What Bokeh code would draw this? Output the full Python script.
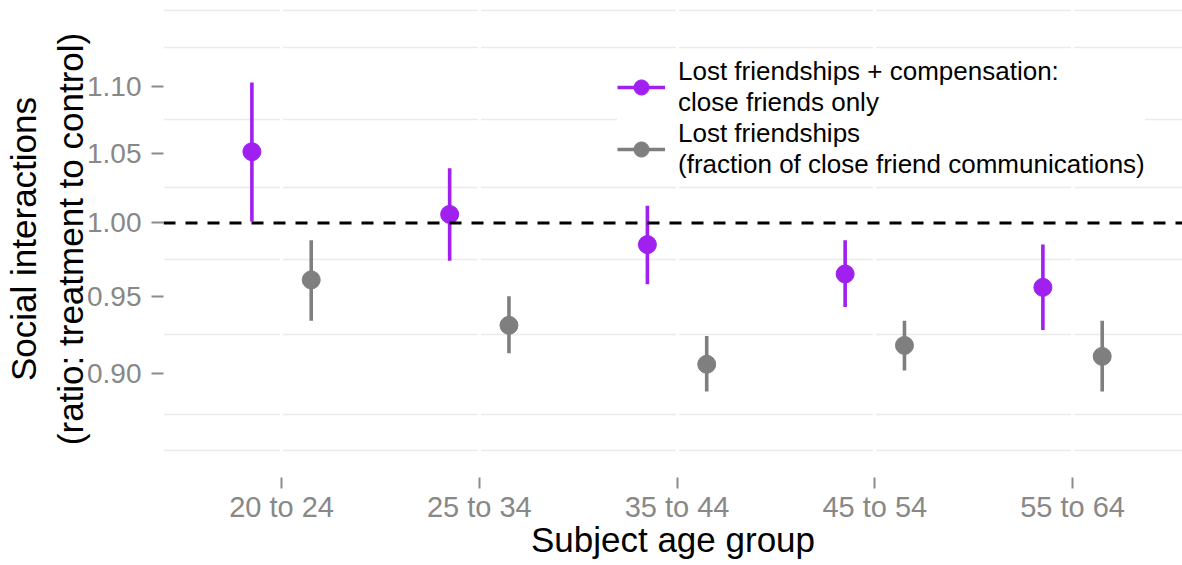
from bokeh.plotting import figure
from bokeh.models import (ColumnDataSource, Range1d, FixedTicker, PrintfTickFormatter,
                          Span, Legend, LegendItem)
from bokeh.transform import dodge
from bokeh.embed import file_html
from bokeh.resources import INLINE

# ---- data ----
ages = ["20 to 24", "25 to 34", "35 to 44", "45 to 54", "55 to 64"]
comp_est = [1.051, 1.006, 0.985, 0.965, 0.956]
comp_lo = [1.001, 0.974, 0.958, 0.943, 0.928]
comp_hi = [1.103, 1.039, 1.012, 0.988, 0.985]
lost_est = [0.961, 0.931, 0.906, 0.918, 0.911]
lost_lo = [0.934, 0.913, 0.889, 0.902, 0.889]
lost_hi = [0.988, 0.950, 0.924, 0.934, 0.934]
y_ticks = [0.90, 0.95, 1.00, 1.05, 1.10]
y_grid = [0.853, 0.875, 0.925, 0.975, 1.025, 1.075, 1.13, 1.16]
comp_label = "Lost friendships + compensation:\nclose friends only"
lost_label = "Lost friendships\n(fraction of close friend communications)"

PURPLE = "#A020F0"
GRAY = "#7F7F7F"
FONT = "Liberation Sans"

xs = list(range(len(ages)))
src_comp = ColumnDataSource(dict(x=xs, est=comp_est, lo=comp_lo, hi=comp_hi))
src_lost = ColumnDataSource(dict(x=xs, est=lost_est, lo=lost_lo, hi=lost_hi))

p = figure(width=1182, height=565, y_axis_type="log",
           x_range=Range1d(-0.597, 4.556), y_range=Range1d(0.8371, 1.1681),
           output_backend="svg", toolbar_location=None,
           min_border_left=163, min_border_right=0, min_border_top=0, min_border_bottom=88)
p.outline_line_color = None
p.background_fill_color = "white"
p.border_fill_color = "white"

# grids: light horizontal lines, white vertical lines on top
p.ygrid.ticker = FixedTicker(ticks=y_grid)
p.ygrid.grid_line_color = "#EBEBEB"
p.ygrid.grid_line_width = 1.5
p.xgrid.ticker = FixedTicker(ticks=xs)
p.xgrid.grid_line_color = "white"
p.xgrid.grid_line_width = 3
xg, yg = p.xgrid[0], p.ygrid[0]
others = [r for r in p.center if r is not xg and r is not yg]
p.center = [yg, xg] + others

# axes
for ax in (p.xaxis[0], p.yaxis[0]):
    ax.axis_line_color = None
    ax.major_tick_line_color = "#8C8C8C"
    ax.major_tick_line_width = 2
    ax.major_tick_in = 0
    ax.minor_tick_line_color = None
    ax.major_label_text_font = FONT
    ax.major_label_text_color = "#888888"
    ax.axis_label_text_font = FONT
    ax.axis_label_text_font_size = "35px"
    ax.axis_label_text_font_style = "normal"
    ax.axis_label_text_color = "black"

p.xaxis.ticker = FixedTicker(ticks=xs)
p.xaxis.major_label_overrides = {i: a for i, a in enumerate(ages)}
p.xaxis.axis_label = "Subject age group"
p.xaxis.major_tick_out = 11
p.xaxis.major_label_text_font_size = "29px"
p.xaxis.major_label_standoff = 2
p.xaxis.axis_label_standoff = -6

p.yaxis.ticker = FixedTicker(ticks=y_ticks)
p.yaxis.formatter = PrintfTickFormatter(format="%.2f")
p.yaxis.axis_label = "Social interactions\n(ratio: treatment to control)"
p.yaxis.major_tick_out = 12
p.yaxis.major_label_text_font_size = "28px"
p.yaxis.major_label_standoff = 10
p.yaxis.axis_label_standoff = -6

# reference line
p.add_layout(Span(location=1.0, dimension="width", line_color="black",
                  line_width=3, line_dash="12 10"))

# error bars and points
seg_c = p.segment(x0=dodge("x", -0.15), y0="lo", x1=dodge("x", -0.15), y1="hi",
                  source=src_comp, line_color=PURPLE, line_width=3.6)
pt_c = p.scatter(x=dodge("x", -0.15), y="est", source=src_comp, size=18,
                 fill_color=PURPLE, line_color=PURPLE)
seg_l = p.segment(x0=dodge("x", 0.15), y0="lo", x1=dodge("x", 0.15), y1="hi",
                  source=src_lost, line_color=GRAY, line_width=3.6)
pt_l = p.scatter(x=dodge("x", 0.15), y="est", source=src_lost, size=18,
                 fill_color=GRAY, line_color=GRAY)

legend = Legend(items=[LegendItem(label=comp_label, renderers=[seg_c, pt_c]),
                       LegendItem(label=lost_label, renderers=[seg_l, pt_l])],
                location=(454, 297))
legend.label_text_font = FONT
legend.label_text_font_size = "26px"
legend.label_text_color = "black"
legend.glyph_width = 48
legend.glyph_height = 38
legend.label_standoff = 13
legend.spacing = 0
legend.padding = 16
legend.margin = 0
legend.border_line_color = None
legend.background_fill_color = "white"
legend.background_fill_alpha = 1.0
p.add_layout(legend, "center")

open("out.html", "w").write(file_html(p, INLINE))
